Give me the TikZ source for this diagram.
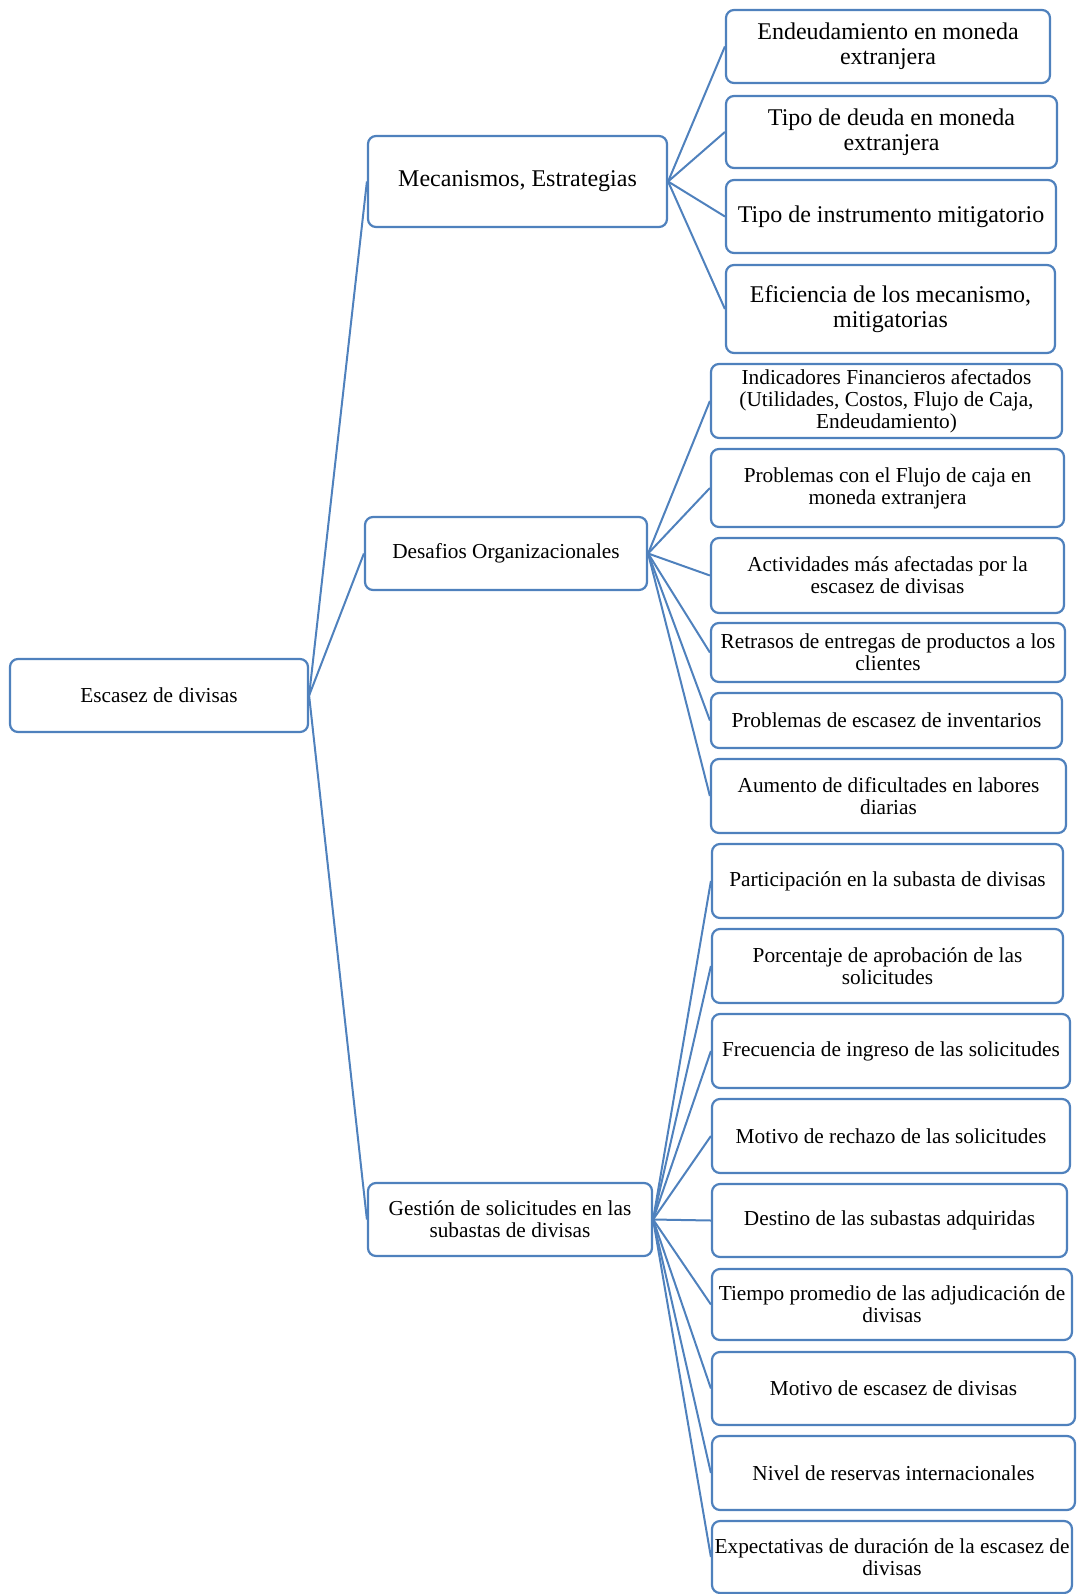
\documentclass[tikz,border=0pt]{standalone}
\usepackage{fontspec}
\setmainfont{Liberation Serif}
\definecolor{bl}{RGB}{79,129,189}
\begin{document}
\begin{tikzpicture}[x=1pt,y=-1pt,
  box/.style={draw=bl, line width=2.2pt, rounded corners=8pt, fill=white, inner sep=0pt, align=center},
  sm/.style={font=\fontsize{21.3}{22}\selectfont},
  lg/.style={font=\fontsize{24}{25}\selectfont},
  conn/.style={draw=bl, line width=2pt}]
\useasboundingbox (0,0) rectangle (1076,1594);
% level 0 and 1
\node[box,sm,minimum width=298pt,minimum height=73pt] (root) at (159,695.5) {Escasez de divisas};
\node[box,lg,minimum width=299pt,minimum height=91pt] (mec) at (517.5,181.5) {Mecanismos, Estrategias};
\node[box,sm,minimum width=282pt,minimum height=73pt] (des) at (506,553.5) {Desafios Organizacionales};
\node[box,sm,minimum width=284pt,minimum height=73pt] (ges) at (510,1219.5) {Gestión de solicitudes en las\\subastas de divisas};
% Mecanismos children
\node[box,lg,minimum width=324pt,minimum height=73pt] (m1) at (888,46.5) {Endeudamiento en moneda\\extranjera};
\node[box,lg,minimum width=331pt,minimum height=72pt] (m2) at (891.5,132) {Tipo de deuda en moneda\\extranjera};
\node[box,lg,minimum width=330pt,minimum height=73pt] (m3) at (891,216.5) {Tipo de instrumento mitigatorio};
\node[box,lg,minimum width=329pt,minimum height=88pt] (m4) at (890.5,309) {Eficiencia de los mecanismo,\\mitigatorias};
% Desafios children
\node[box,sm,minimum width=351pt,minimum height=74pt] (d1) at (886.5,401) {Indicadores Financieros afectados\\(Utilidades, Costos, Flujo de Caja,\\Endeudamiento)};
\node[box,sm,minimum width=353pt,minimum height=78pt] (d2) at (887.5,488) {Problemas con el Flujo de caja en\\moneda extranjera};
\node[box,sm,minimum width=353pt,minimum height=75pt] (d3) at (887.5,575.5) {Actividades más afectadas por la\\escasez de divisas};
\node[box,sm,minimum width=354pt,minimum height=59pt] (d4) at (888,652.5) {Retrasos de entregas de productos a los\\clientes};
\node[box,sm,minimum width=351pt,minimum height=55pt] (d5) at (886.5,720.5) {Problemas de escasez de inventarios};
\node[box,sm,minimum width=355pt,minimum height=74pt] (d6) at (888.5,796) {Aumento de dificultades en labores\\diarias};
% Gestion children
\node[box,sm,minimum width=351pt,minimum height=74pt] (g1) at (887.5,881) {Participación en la subasta de divisas};
\node[box,sm,minimum width=351pt,minimum height=74pt] (g2) at (887.5,966) {Porcentaje de aprobación de las\\solicitudes};
\node[box,sm,minimum width=358pt,minimum height=74pt] (g3) at (891,1051) {Frecuencia de ingreso de las solicitudes};
\node[box,sm,minimum width=358pt,minimum height=74pt] (g4) at (891,1136) {Motivo de rechazo de las solicitudes};
\node[box,sm,minimum width=355pt,minimum height=73pt] (g5) at (889.5,1220.5) {Destino de las subastas adquiridas};
\node[box,sm,minimum width=360pt,minimum height=71pt] (g6) at (892,1304.5) {Tiempo promedio de las adjudicación de\\divisas};
\node[box,sm,minimum width=363pt,minimum height=73pt] (g7) at (893.5,1388.5) {Motivo de escasez de divisas};
\node[box,sm,minimum width=363pt,minimum height=74pt] (g8) at (893.5,1473) {Nivel de reservas internacionales};
\node[box,sm,minimum width=360pt,minimum height=72pt] (g9) at (892,1557) {Expectativas de duración de la escasez de\\divisas};
% connectors
\foreach \c in {mec,des,ges} \draw[conn] (root.east) -- (\c.west);
\foreach \c in {m1,m2,m3,m4} \draw[conn] (mec.east) -- (\c.west);
\foreach \c in {d1,d2,d3,d4,d5,d6} \draw[conn] (des.east) -- (\c.west);
\foreach \c in {g1,g2,g3,g4,g5,g6,g7,g8,g9} \draw[conn] (ges.east) -- (\c.west);
\end{tikzpicture}
\end{document}
